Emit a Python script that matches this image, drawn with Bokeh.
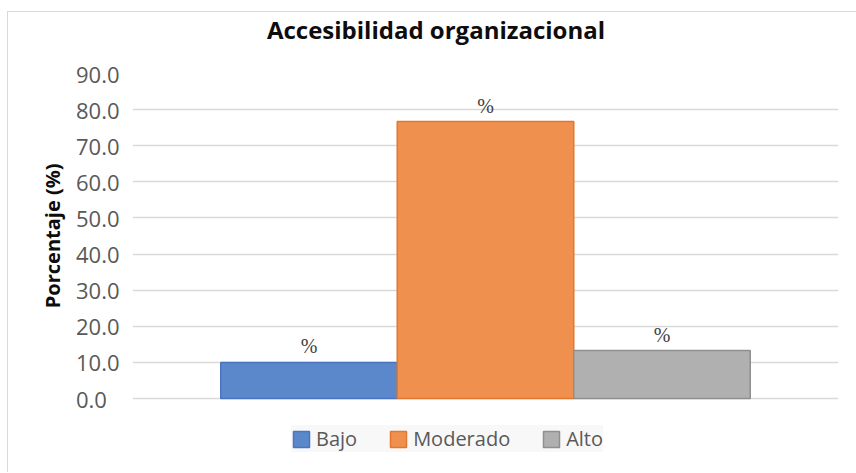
from bokeh.plotting import figure
from bokeh.layouts import column
from bokeh.models import (Range1d, ColumnDataSource, LabelSet, Legend, LegendItem,
                          NumeralTickFormatter, FixedTicker, Title, Div)
from bokeh.embed import file_html
from bokeh.resources import INLINE

# ---- data ----
categories = ["Bajo", "Moderado", "Alto"]
values = [10.0, 76.7, 13.3]
bar_labels = ["%", "%", "%"]
y_ticks = [0, 10, 20, 30, 40, 50, 60, 70, 80, 90]
title_text = "Accesibilidad organizacional"
y_label = "Porcentaje (%)"

# ---- styles ----
FONT = "Open Sans"
fills = ["#5b87cb", "#f0904f", "#b0b0b0"]
lines = ["#4a74bf", "#e2772e", "#8f8f8f"]

title_div = Div(
    text=('<div style="box-sizing:border-box;width:848px;padding-left:8px;margin-top:2px;'
          'text-align:center;font-family:\'Open Sans\';font-size:24px;font-weight:bold;'
          'line-height:32px;color:#0d0d0d;white-space:nowrap">' + title_text + '</div>'),
    width=848, height=40, margin=0)

# frame extends below 0 to leave room for the legend inside it
p = figure(width=848, height=420,
           x_range=Range1d(-1, 3), y_range=Range1d(-20.2, 90),
           output_backend="svg", toolbar_location=None,
           min_border_left=124, min_border_right=18,
           min_border_top=21, min_border_bottom=1, margin=0)
p.outline_line_color = None
p.background_fill_color = "white"
p.border_fill_color = "white"

xs = list(range(len(categories)))
renderers = []
for i, (c, v) in enumerate(zip(categories, values)):
    src = ColumnDataSource(dict(x=[xs[i]], top=[v]))
    r = p.vbar(x="x", top="top", bottom=0, width=1.0, source=src,
               fill_color=fills[i], line_color=lines[i], line_width=1.5)
    renderers.append(r)

lab_src = ColumnDataSource(dict(x=xs, y=values, t=bar_labels))
p.add_layout(LabelSet(x="x", y="y", text="t", source=lab_src, y_offset=9,
                      text_align="center", text_baseline="alphabetic",
                      text_font=FONT, text_font_size="20px", text_color="#404040"))

p.xaxis.visible = False
p.xgrid.visible = False
p.ygrid.grid_line_color = "#d9d9d9"
p.ygrid.grid_line_width = 1.5

ya = p.yaxis[0]
ya.ticker = FixedTicker(ticks=y_ticks)
ya.formatter = NumeralTickFormatter(format="0.0")
ya.major_label_overrides = {0: "0.0\u2007"}
ya.axis_line_color = None
ya.major_tick_line_color = None
ya.minor_tick_line_color = None
ya.major_tick_out = 0
ya.major_label_standoff = 13
ya.major_label_text_font = FONT
ya.major_label_text_font_size = "22px"
ya.major_label_text_color = "#595959"

# y axis title placed beside the axis, aligned to the 0-90 region
p.add_layout(Title(text=y_label, align="right", offset=90, standoff=14,
                   text_font=FONT, text_font_size="20px", text_font_style="bold",
                   text_color="#0d0d0d"), "left")

legend = Legend(items=[LegendItem(label=c, renderers=[r]) for c, r in zip(categories, renderers)],
                orientation="horizontal", location=(159, 19),
                background_fill_color="#f8f8f8", background_fill_alpha=1.0,
                border_line_color=None,
                label_text_font=FONT, label_text_font_size="20px", label_text_color="#595959",
                glyph_width=20, glyph_height=20, label_standoff=5, spacing=31,
                padding=8, margin=0)
p.add_layout(legend, "center")

layout = column(title_div, p, spacing=0,
                styles={"border-left": "1px solid #d9d9d9", "border-top": "1px solid #d9d9d9",
                        "margin-left": "7px", "margin-top": "11px"})

open("out.html", "w").write(file_html(layout, INLINE))
